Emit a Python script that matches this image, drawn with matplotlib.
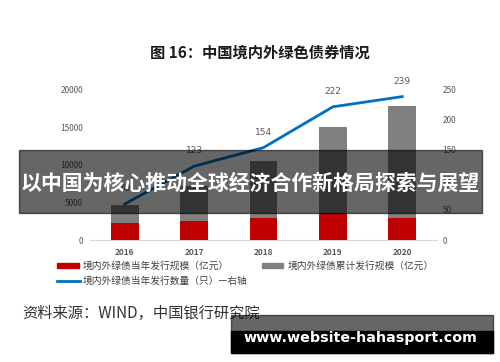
import matplotlib
matplotlib.use("Agg")
import matplotlib.pyplot as plt
from matplotlib.patches import Rectangle
from matplotlib.lines import Line2D

plt.rcParams['font.family'] = ['Noto Sans CJK SC', 'DejaVu Sans']

# data
years = ['2016', '2017', '2018', '2019', '2020']
issue_amount = [2300, 2490, 2980, 3600, 2890]        # 当年发行规模（亿元）
cum_amount = [4630, 7200, 10570, 15000, 17830]       # 累计发行规模（亿元）
issue_count = [60, 123, 154, 222, 239]               # 当年发行数量（只）
count_labels = ['60', '123', '154', '222', '239']

W, H = 500, 362
fig = plt.figure(figsize=(W / 100, H / 100), dpi=100)


def fx(x):
    return x / W


def fy(y):
    return 1 - y / H


# plot area: x 90..437 px, y 90..240 px
ax = fig.add_axes([fx(90), fy(240), (437 - 90) / W, 150 / H])
xs = range(len(years))
ax.bar(xs, cum_amount, width=0.4, color='#808080', zorder=2)
ax.bar(xs, issue_amount, width=0.4, color='#C00000', zorder=3)
ax.set_xlim(-0.5, 4.5)
ax.set_ylim(0, 20000)
ax.set_yticks([0, 5000, 10000, 15000, 20000])
ax.set_xticks(list(xs))
ax.set_xticklabels(years, fontweight='bold')
for s in ['top', 'left', 'right']:
    ax.spines[s].set_visible(False)
ax.spines['bottom'].set_color('#d9d9d9')
ax.tick_params(axis='both', length=0, labelsize=6, labelcolor='#595959')
ax.tick_params(axis='x', pad=6)
ax.tick_params(axis='y', pad=5)

ax2 = ax.twinx()
ax2.plot(xs, issue_count, color='#0070C0', lw=2, zorder=4)
for i, (v, lab) in enumerate(zip(issue_count, count_labels)):
    ax2.annotate(lab, (i, v), xytext=(0, 11), textcoords='offset points',
                 ha='center', va='center', fontsize=6.5, color='#595959',
                 family='DejaVu Sans')
ax2.set_ylim(0, 250)
ax2.set_yticks([0, 50, 100, 150, 200, 250])
for s in ax2.spines.values():
    s.set_visible(False)
ax2.tick_params(axis='y', length=0, labelsize=6, labelcolor='#595959', pad=4)

# title
fig.text(fx(259.5), fy(53), '图 16：中国境内外绿色债券情况', ha='center', va='center',
         fontsize=11, fontweight='bold', color='#1a1a1a')

# legend
leg_fs = 7
fig.add_artist(Rectangle((fx(57), fy(268.3)), 22 / W, 5 / H, transform=fig.transFigure,
                         color='#C00000'))
fig.text(fx(83), fy(265.7), '境内外绿债当年发行规模（亿元）', ha='left', va='center',
         fontsize=leg_fs, color='#404040')
fig.add_artist(Rectangle((fx(262), fy(268.3)), 21 / W, 5 / H, transform=fig.transFigure,
                         color='#808080'))
fig.text(fx(288), fy(265.7), '境内外绿债累计发行规模（亿元）', ha='left', va='center',
         fontsize=leg_fs, color='#404040')
fig.add_artist(Line2D([fx(57), fx(80)], [fy(280.7), fy(280.7)], transform=fig.transFigure,
                      color='#0070C0', lw=2))
fig.text(fx(83), fy(280.7), '境内外绿债当年发行数量（只）—右轴', ha='left', va='center',
         fontsize=leg_fs, color='#404040')

# source
fig.text(fx(22), fy(313.5), '资料来源：WIND，中国银行研究院', ha='left', va='center',
         fontsize=11, color='#333333')

# banner overlay
fig.add_artist(Rectangle((fx(19), fy(212.7)), (482 - 19) / W, 62.7 / H,
                         transform=fig.transFigure, color='black', alpha=0.6, zorder=10))
fig.text(fx(250.5), fy(183), '以中国为核心推动全球经济合作新格局探索与展望', ha='center',
         va='center', fontsize=15, fontweight='bold', color='white', zorder=11)

# watermark
fig.add_artist(Rectangle((fx(231), fy(352.7)), (492.7 - 231) / W, 37.7 / H,
                         transform=fig.transFigure, color='black', alpha=0.6, zorder=10))
fig.add_artist(Rectangle((fx(231), fy(352.7)), (492.7 - 231) / W, 22 / H,
                         transform=fig.transFigure, color='black', zorder=10))
fig.text(fx(360.5), fy(338), 'www.website-hahasport.com', ha='center', va='center',
         fontsize=10.3, fontweight='bold', color='white', family='DejaVu Sans', zorder=11)

fig.savefig('out.png', dpi=100)
